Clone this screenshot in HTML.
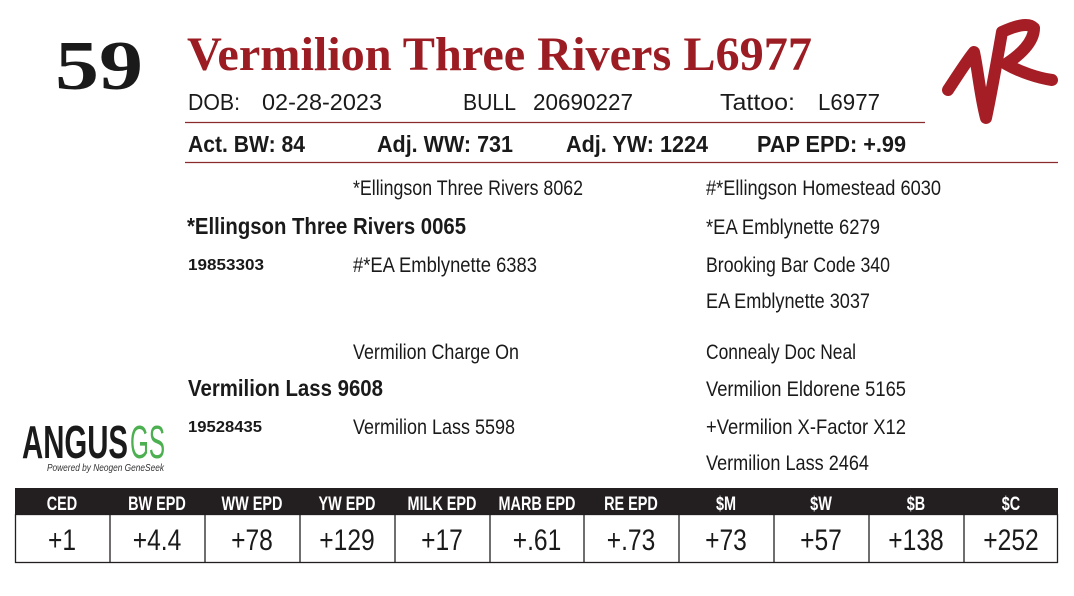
<!DOCTYPE html>
<html><head><meta charset="utf-8"><style>
html,body{margin:0;padding:0;background:#fff;}
svg{display:block}
</style></head><body>
<svg width="1074" height="596" viewBox="0 0 1074 596" xmlns="http://www.w3.org/2000/svg">
<rect width="1074" height="596" fill="#fff"/>
<text x="55" y="89" font-family="Liberation Serif" font-weight="bold" font-size="70" textLength="88" lengthAdjust="spacingAndGlyphs" fill="#1a1a1a">59</text>
<text x="187" y="70" font-family="Liberation Serif" font-weight="bold" font-size="48" textLength="625" lengthAdjust="spacingAndGlyphs" fill="#9b1c22">Vermilion Three Rivers L6977</text>
<path d="M948 90 C958 75 966 62 974 52 C978 70 980 95 986 118 C992 90 998 55 1002 32 C1015 26 1028 22 1034 28 C1034 42 1020 55 1006 64 C1020 72 1038 78 1052 80" fill="none" stroke="#a51e26" stroke-width="12" stroke-linecap="round" stroke-linejoin="round"/>
<g font-family="Liberation Sans" font-size="23" fill="#1a1a1a">
<text x="188" y="110" textLength="52" lengthAdjust="spacingAndGlyphs">DOB:</text>
<text x="262" y="110" textLength="120" lengthAdjust="spacingAndGlyphs">02-28-2023</text>
<text x="463" y="110" textLength="53" lengthAdjust="spacingAndGlyphs">BULL</text>
<text x="533" y="110" textLength="100" lengthAdjust="spacingAndGlyphs">20690227</text>
<text x="720" y="110" textLength="75" lengthAdjust="spacingAndGlyphs">Tattoo:</text>
<text x="818" y="110" textLength="62" lengthAdjust="spacingAndGlyphs">L6977</text>
<g font-weight="bold">
<text x="188" y="152" textLength="117" lengthAdjust="spacingAndGlyphs">Act. BW: 84</text>
<text x="377" y="152" textLength="136" lengthAdjust="spacingAndGlyphs">Adj. WW: 731</text>
<text x="566" y="152" textLength="142" lengthAdjust="spacingAndGlyphs">Adj. YW: 1224</text>
<text x="757" y="152" textLength="149" lengthAdjust="spacingAndGlyphs">PAP EPD: +.99</text>
</g>
</g>
<line x1="185" y1="122.5" x2="925" y2="122.5" stroke="#8a2a2a" stroke-width="1.3"/>
<line x1="185" y1="162.5" x2="1058" y2="162.5" stroke="#8a2a2a" stroke-width="1.3"/>
<g font-family="Liberation Sans" font-size="21" fill="#1a1a1a">
<text x="353" y="195" textLength="230" lengthAdjust="spacingAndGlyphs">*Ellingson Three Rivers 8062</text>
<text x="706" y="195" textLength="235" lengthAdjust="spacingAndGlyphs">#*Ellingson Homestead 6030</text>
<text x="187" y="234" font-weight="bold" font-size="23" textLength="279" lengthAdjust="spacingAndGlyphs">*Ellingson Three Rivers 0065</text>
<text x="706" y="234" textLength="174" lengthAdjust="spacingAndGlyphs">*EA Emblynette 6279</text>
<text x="188" y="270" font-size="16" font-weight="bold" textLength="76" lengthAdjust="spacingAndGlyphs">19853303</text>
<text x="353" y="272" textLength="184" lengthAdjust="spacingAndGlyphs">#*EA Emblynette 6383</text>
<text x="706" y="272" textLength="184" lengthAdjust="spacingAndGlyphs">Brooking Bar Code 340</text>
<text x="706" y="308" textLength="164" lengthAdjust="spacingAndGlyphs">EA Emblynette 3037</text>
<text x="353" y="359" textLength="166" lengthAdjust="spacingAndGlyphs">Vermilion Charge On</text>
<text x="706" y="359" textLength="150" lengthAdjust="spacingAndGlyphs">Connealy Doc Neal</text>
<text x="188" y="396" font-weight="bold" font-size="23" textLength="195" lengthAdjust="spacingAndGlyphs">Vermilion Lass 9608</text>
<text x="706" y="396" textLength="200" lengthAdjust="spacingAndGlyphs">Vermilion Eldorene 5165</text>
<text x="188" y="432" font-size="16" font-weight="bold" textLength="74" lengthAdjust="spacingAndGlyphs">19528435</text>
<text x="353" y="434" textLength="162" lengthAdjust="spacingAndGlyphs">Vermilion Lass 5598</text>
<text x="706" y="434" textLength="200" lengthAdjust="spacingAndGlyphs">+Vermilion X-Factor X12</text>
<text x="706" y="470" textLength="163" lengthAdjust="spacingAndGlyphs">Vermilion Lass 2464</text>
</g>
<text x="22" y="458" font-family="Liberation Sans" font-weight="bold" font-size="46" textLength="106" lengthAdjust="spacingAndGlyphs" fill="#1a1a1a">ANGUS</text>
<text x="130" y="458" font-family="Liberation Sans" font-size="46" textLength="35" lengthAdjust="spacingAndGlyphs" fill="#4caf50">GS</text>
<text x="47" y="471" font-family="Liberation Sans" font-style="italic" font-size="10" textLength="117" lengthAdjust="spacingAndGlyphs" fill="#333">Powered by Neogen GeneSeek</text>
<rect x="15" y="488" width="1043" height="26" fill="#231f20"/>
<rect x="15.5" y="514.5" width="1042" height="48" fill="none" stroke="#231f20" stroke-width="1.3"/>
<g stroke="#231f20" stroke-width="1.3">
<line x1="110" y1="514" x2="110" y2="563"/><line x1="205" y1="514" x2="205" y2="563"/><line x1="300" y1="514" x2="300" y2="563"/><line x1="395" y1="514" x2="395" y2="563"/><line x1="490" y1="514" x2="490" y2="563"/><line x1="584" y1="514" x2="584" y2="563"/><line x1="679" y1="514" x2="679" y2="563"/><line x1="774" y1="514" x2="774" y2="563"/><line x1="869" y1="514" x2="869" y2="563"/><line x1="964" y1="514" x2="964" y2="563"/>
</g>
<g font-family="Liberation Sans" font-weight="bold" font-size="19" fill="#fff" text-anchor="middle">
<text x="62" y="510" transform="translate(62,0) scale(0.76,1) translate(-62,0)">CED</text>
<text x="157" y="510" transform="translate(157,0) scale(0.76,1) translate(-157,0)">BW EPD</text>
<text x="252" y="510" transform="translate(252,0) scale(0.76,1) translate(-252,0)">WW EPD</text>
<text x="347" y="510" transform="translate(347,0) scale(0.76,1) translate(-347,0)">YW EPD</text>
<text x="442" y="510" transform="translate(442,0) scale(0.76,1) translate(-442,0)">MILK EPD</text>
<text x="537" y="510" transform="translate(537,0) scale(0.76,1) translate(-537,0)">MARB EPD</text>
<text x="631" y="510" transform="translate(631,0) scale(0.76,1) translate(-631,0)">RE EPD</text>
<text x="726" y="510" transform="translate(726,0) scale(0.76,1) translate(-726,0)">$M</text>
<text x="821" y="510" transform="translate(821,0) scale(0.76,1) translate(-821,0)">$W</text>
<text x="916" y="510" transform="translate(916,0) scale(0.76,1) translate(-916,0)">$B</text>
<text x="1011" y="510" transform="translate(1011,0) scale(0.76,1) translate(-1011,0)">$C</text>
</g>
<g font-family="Liberation Sans" font-size="30" fill="#1a1a1a" text-anchor="middle">
<text x="62" y="550" transform="translate(62,0) scale(0.82,1) translate(-62,0)">+1</text>
<text x="157" y="550" transform="translate(157,0) scale(0.82,1) translate(-157,0)">+4.4</text>
<text x="252" y="550" transform="translate(252,0) scale(0.82,1) translate(-252,0)">+78</text>
<text x="347" y="550" transform="translate(347,0) scale(0.82,1) translate(-347,0)">+129</text>
<text x="442" y="550" transform="translate(442,0) scale(0.82,1) translate(-442,0)">+17</text>
<text x="537" y="550" transform="translate(537,0) scale(0.82,1) translate(-537,0)">+.61</text>
<text x="631" y="550" transform="translate(631,0) scale(0.82,1) translate(-631,0)">+.73</text>
<text x="726" y="550" transform="translate(726,0) scale(0.82,1) translate(-726,0)">+73</text>
<text x="821" y="550" transform="translate(821,0) scale(0.82,1) translate(-821,0)">+57</text>
<text x="916" y="550" transform="translate(916,0) scale(0.82,1) translate(-916,0)">+138</text>
<text x="1011" y="550" transform="translate(1011,0) scale(0.82,1) translate(-1011,0)">+252</text>
</g>
</svg>
</body></html>
